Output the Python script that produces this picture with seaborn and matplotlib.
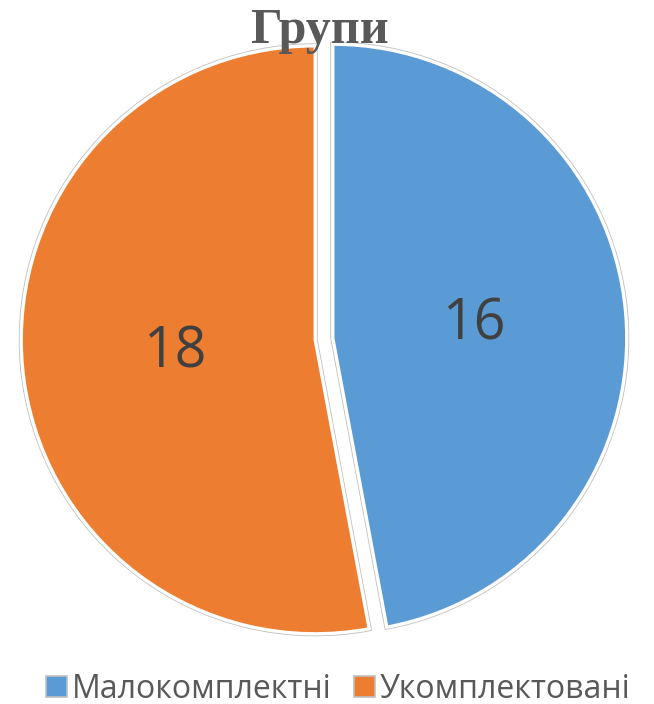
import matplotlib.pyplot as plt
import seaborn as sns
from matplotlib.patches import Patch

categories = ["Малокомплектні", "Укомплектовані"]
values = [16, 18]
colors = ["#5B9BD5", "#ED7D31"]
title = "Групи"

sns.set_style("white")
plt.rcParams['font.family'] = ['Open Sans', 'DejaVu Sans']

fig = plt.figure(figsize=(6.54, 7.04), dpi=100)
R = 294
W, H = 654, 704
cx, cy = 324, 339
half = 1.05 * R
ax = fig.add_axes([(cx - half) / W, (H - cy - half) / H, 2 * half / W, 2 * half / H])

explode = [0.03, 0.03]
total = sum(values)

# gray outline layer
ax.pie(values, colors=["white", "white"], startangle=90, counterclock=False,
       explode=explode, wedgeprops=dict(edgecolor="#c0c0c0", linewidth=3.6))
# filled slices with white inner band
ax.pie(values, colors=colors, startangle=90, counterclock=False, explode=explode,
       autopct=lambda p: f"{round(p * total / 100)}", pctdistance=0.48,
       wedgeprops=dict(edgecolor="white", linewidth=2.4),
       textprops=dict(fontsize=40, color="#404040"))
ax.set_xlim(-1.05, 1.05)
ax.set_ylim(-1.05, 1.05)
ax.set_aspect("equal")
ax.axis("off")

fig.text(0.489, (H - 43) / H, title, ha="center", va="baseline", fontsize=36,
         fontweight="bold", color="#595959", family=["Liberation Serif", "DejaVu Serif"])

handles = [Patch(facecolor=c, edgecolor="#c0c0c0", linewidth=1.2) for c in colors]
fig.legend(handles, categories, loc="center", bbox_to_anchor=(0.517, 15 / H),
           ncol=2, frameon=False, fontsize=23, labelcolor="#595959",
           handlelength=0.65, handleheight=0.65, handletextpad=0.15, columnspacing=0.7,
           borderpad=0.1)

fig.savefig("out.png", dpi=100)
